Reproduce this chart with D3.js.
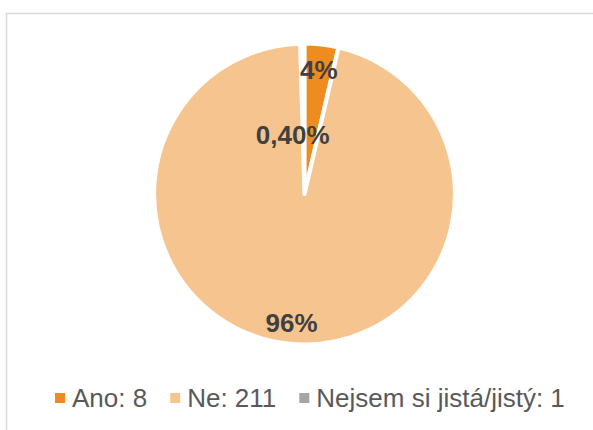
<!DOCTYPE html>
<html>
<head>
<meta charset="utf-8">
<script src="https://cdn.jsdelivr.net/npm/d3@7"></script>
<style>
  html, body { margin: 0; padding: 0; background: #fff; }
  svg { display: block; font-family: "Liberation Sans", Arial, sans-serif; }
</style>
</head>
<body>
<script>
// data
const categories = ['Ano', 'Ne', 'Nejsem si jistá/jistý']
const counts = [8, 211, 1]
const pctLabels = ['4%', '96%', '0,40%']
const colors = ['#EE8C22', '#F6C48E', '#A5A5A5']

const width = 593
const height = 430
const cx = 304.5
const cy = 194
const radius = 150.5

const svg = d3.select('body').append('svg')
  .attr('width', width)
  .attr('height', height)

// chart frame (runs off the right and bottom edge)
svg.append('rect')
  .attr('x', 6.5)
  .attr('y', 13.5)
  .attr('width', 620)
  .attr('height', 440)
  .attr('fill', 'none')
  .attr('stroke', '#d9d9d9')
  .attr('stroke-width', 1.5)

const pie = d3.pie().sort(null).value(d => d)
const arcs = pie(counts)
const arc = d3.arc().innerRadius(0).outerRadius(radius)

const g = svg.append('g').attr('transform', `translate(${cx},${cy})`)

// draw the tiny slice first so the neighbours' borders sit on top
const order = [2, 0, 1]
g.selectAll('path')
  .data(order.map(i => arcs[i]))
  .join('path')
  .attr('d', arc)
  .attr('fill', d => colors[d.index])
  .attr('stroke', '#fff')
  .attr('stroke-width', 4.2)
  .attr('stroke-linejoin', 'round')

// label placement: fraction of radius, plus small nudges Excel applied
const labelR = [0.83, 0.86, 0.39]
const labelDx = [0, 0, -11]

g.selectAll('text.pct')
  .data(arcs)
  .join('text')
  .attr('class', 'pct')
  .attr('transform', (d, i) => {
    const r = radius * labelR[i]
    const [x, y] = d3.arc().innerRadius(r).outerRadius(r).centroid(d)
    return `translate(${x + labelDx[i]},${y})`
  })
  .attr('text-anchor', 'middle')
  .attr('dy', '0.35em')
  .attr('font-size', 26)
  .attr('font-weight', 'bold')
  .attr('fill', '#404040')
  .text((d, i) => pctLabels[i])

// legend
const legend = svg.append('g')
const items = legend.selectAll('g')
  .data(categories)
  .join('g')

items.append('rect')
  .attr('width', 10)
  .attr('height', 10)
  .attr('y', -5)
  .attr('fill', (d, i) => colors[i])

items.append('text')
  .attr('x', 17)
  .attr('dy', '0.35em')
  .attr('font-size', 26)
  .attr('fill', '#595959')
  .text((d, i) => `${d}: ${counts[i]}`)

let x = 0
const gap = 23
items.each(function () {
  const w = 17 + d3.select(this).select('text').node().getComputedTextLength()
  d3.select(this).attr('transform', `translate(${x},0)`)
  x += w + gap
})
legend.attr('transform', 'translate(55,398)')
</script>
</body>
</html>
